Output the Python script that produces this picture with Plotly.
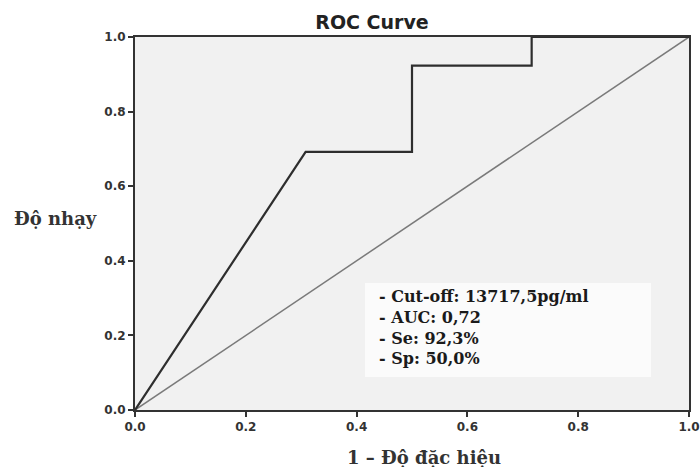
import plotly.graph_objects as go

# ROC curve points (1 - specificity, sensitivity)
fpr = [0.0, 0.308, 0.5, 0.5, 0.716, 0.716, 1.0]
tpr = [0.0, 0.692, 0.692, 0.923, 0.923, 1.0, 1.0]
ref_x = [0.0, 1.0]
ref_y = [0.0, 1.0]
tick_vals = [0.0, 0.2, 0.4, 0.6, 0.8, 1.0]
info_lines = ["- Cut-off: 13717,5pg/ml", "- AUC: 0,72", "- Se: 92,3%", "- Sp: 50,0%"]

W, H = 700, 467
L, R, T, B = 135, 11, 37, 57
pw = W - L - R
ph = H - T - B


def px_x(p):
    return (p - L) / pw


def px_y(p):
    return (H - B - p) / ph


fig = go.Figure()
fig.add_trace(go.Scatter(x=ref_x, y=ref_y, mode="lines",
                         line=dict(color="#7a7a7a", width=1.5), hoverinfo="skip"))
fig.add_trace(go.Scatter(x=fpr, y=tpr, mode="lines",
                         line=dict(color="#2e2e2e", width=2.2), hoverinfo="skip"))

# info box (lighter background)
fig.add_shape(type="rect", xref="paper", yref="paper", x0=px_x(365), x1=px_x(651),
              y0=px_y(377), y1=px_y(283),
              fillcolor="#fbfbfb", line=dict(width=0), layer="below")
fig.add_annotation(xref="paper", yref="paper", x=px_x(377), y=px_y(327),
                   xanchor="left", yanchor="middle",
                   text="<br>".join("<b>%s</b>" % s for s in info_lines),
                   showarrow=False, align="left",
                   font=dict(family="DejaVu Serif", size=16, color="#1a1a1a"))

axis_font = dict(family="DejaVu Sans", size=12, color="#333333", weight="bold")
common = dict(range=[0, 1], tickvals=tick_vals, tickformat=".1f", automargin=False,
              showgrid=False, zeroline=False, showline=True, linecolor="#333333",
              linewidth=2, mirror=True, ticks="outside", ticklen=5, tickwidth=2,
              tickcolor="#333333", tickfont=axis_font)
fig.update_xaxes(**common)
fig.update_yaxes(**common)

# axis titles
fig.add_annotation(xref="paper", yref="paper", x=px_x(12), y=px_y(218),
                   xanchor="left", yanchor="middle", text="<b>Độ nhạy</b>", showarrow=False,
                   font=dict(family="DejaVu Serif", size=18, color="#333333"))
fig.add_annotation(xref="paper", yref="paper", x=px_x(424), y=px_y(457),
                   xanchor="center", yanchor="middle", text="<b>1 – Độ đặc hiệu</b>",
                   showarrow=False,
                   font=dict(family="DejaVu Serif", size=18, color="#333333"))

fig.update_layout(
    width=W, height=H,
    margin=dict(l=L, r=R, t=T, b=B),
    paper_bgcolor="white", plot_bgcolor="#f1f1f1",
    showlegend=False,
    title=dict(text="<b>ROC Curve</b>", x=372 / W, xanchor="center",
               y=1 - 22 / H, yanchor="middle",
               font=dict(family="DejaVu Sans", size=19, color="#222222")),
)

fig.write_html("out.html", config={"displayModeBar": False},
               post_script="document.body.style.margin='0';document.body.style.padding='0';")
